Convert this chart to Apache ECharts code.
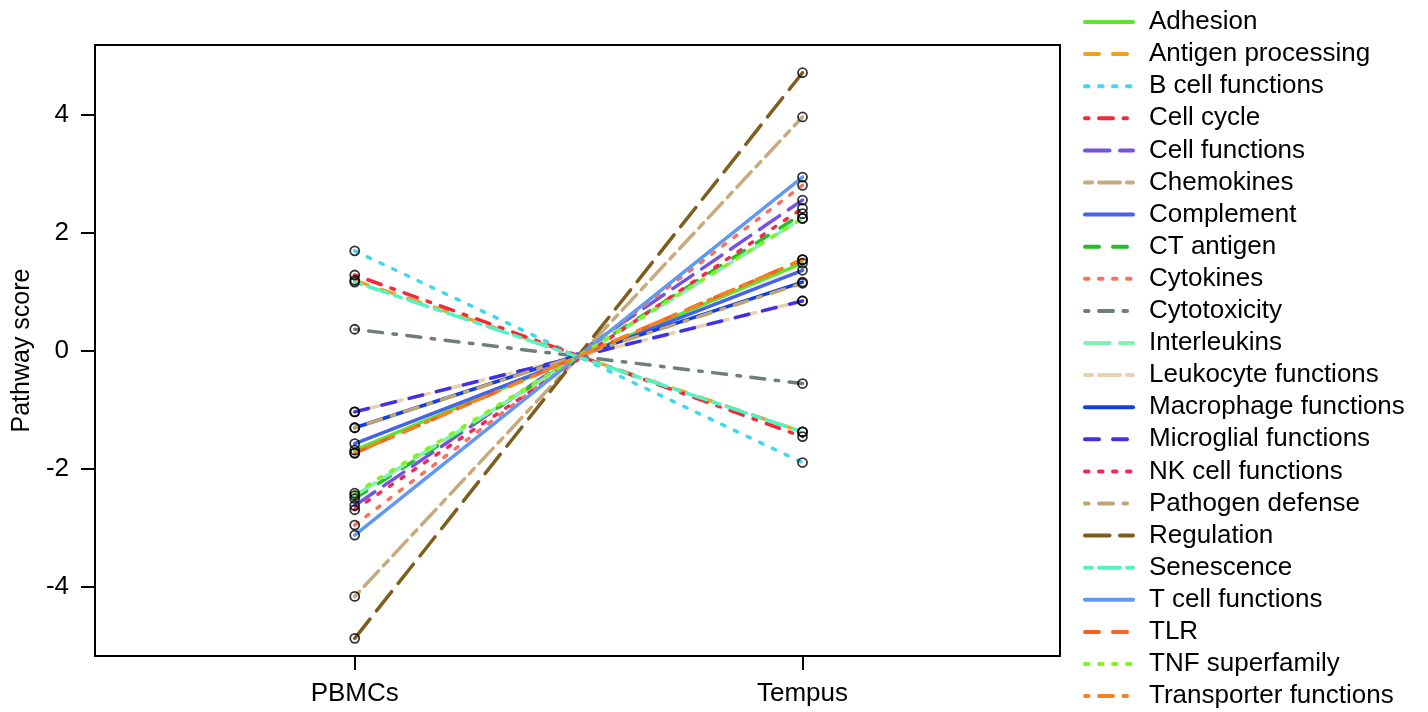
<!DOCTYPE html>
<html>
<head>
<meta charset="utf-8">
<script src="https://cdn.jsdelivr.net/npm/echarts@6/dist/echarts.min.js"></script>
<style>
html,body{margin:0;padding:0;background:#fff;}
#chart{width:1428px;height:712px;}
</style>
</head>
<body>
<div id="chart"></div>
<script>
const groups = ['PBMCs', 'Tempus'];
const pathways = ['Adhesion','Antigen processing','B cell functions','Cell cycle','Cell functions','Chemokines','Complement','CT antigen','Cytokines','Cytotoxicity','Interleukins','Leukocyte functions','Macrophage functions','Microglial functions','NK cell functions','Pathogen defense','Regulation','Senescence','T cell functions','TLR','TNF superfamily','Transporter functions'];
const pbmcScores =   [-1.68, 1.20, 1.70, 1.29, -2.62, -4.16, -1.57, -2.50, -2.95, 0.37, -2.45, -1.03, -1.30, -1.03, -2.69, -1.30, -4.87, 1.17, -3.12, -1.73, -2.41, -1.73];
const tempusScores = [ 1.49, -1.37, -1.89, -1.45, 2.56, 3.97, 1.37, 2.33, 2.81, -0.55, 2.25, 0.85, 1.17, 0.85, 2.42, 1.15, 4.72, -1.37, 2.95, 1.55, 2.25, 1.55];
const yTicks = [-4, -2, 0, 2, 4];
const colors = ['#5ee62e','#f0a21e','#3fd8f0','#f02a3a','#7452e4','#c8aa7c','#4462ea','#22c022','#f8705e','#6e7e7c','#82f2b2','#ead0ac','#1040e0','#4030e6','#f02852','#c0a474','#7e5e1c','#52f2c4','#6298f0','#f26420','#82f222','#f28222'];
// R lty cycle: solid, dashed, dotted, dotdash, longdash, twodash (units scaled by line width)
const u = 3.5;
const ltys = ['solid', [4*u,4*u], [1*u,3*u], [1*u,3*u,4*u,3*u], [7*u,3*u], [2*u,2*u,6*u,2*u]];

const series = pathways.map((name, i) => ({
  name: name,
  type: 'line',
  data: [[1, pbmcScores[i]], [2, tempusScores[i]]],
  symbol: 'none',
  silent: true,
  lineStyle: { color: colors[i], width: 3.5, type: ltys[i % 6], cap: 'round' },
  itemStyle: { color: colors[i] },
  z: 2
}));
const pts = [];
pathways.forEach((n, i) => { pts.push([1, pbmcScores[i]]); pts.push([2, tempusScores[i]]); });
series.push({
  name: 'points',
  type: 'scatter',
  data: pts,
  symbol: 'circle',
  symbolSize: 9,
  itemStyle: { color: 'rgba(0,0,0,0)', borderColor: '#000', borderWidth: 1.8 },
  z: 5
});

const chart = echarts.init(document.getElementById('chart'));
chart.setOption({
  animation: false,
  backgroundColor: '#fff',
  textStyle: { fontFamily: 'Liberation Sans, Arial, sans-serif' },
  grid: { left: 95, right: 368, top: 45, bottom: 56, show: true, borderColor: '#000', borderWidth: 2, backgroundColor: 'transparent' },
  xAxis: {
    type: 'value', min: 0.42, max: 2.575,
    axisLine: { show: false, onZero: false },
    splitLine: { show: false },
    axisTick: { show: true, inside: false, length: 14, lineStyle: { color: '#000', width: 2 }, customValues: [1, 2] },
    axisLabel: { color: '#000', fontSize: 26, margin: 25, customValues: [1, 2], formatter: v => groups[Math.round(v) - 1] }
  },
  yAxis: {
    type: 'value', min: -5.17, max: 5.19,
    name: 'Pathway score', nameLocation: 'middle', nameRotate: 90, nameGap: 59,
    nameTextStyle: { color: '#000', fontSize: 25 },
    axisLine: { show: false, onZero: false },
    splitLine: { show: false },
    axisTick: { show: true, inside: false, length: 14, lineStyle: { color: '#000', width: 2 }, customValues: yTicks },
    axisLabel: { color: '#000', fontSize: 26, margin: 26, customValues: yTicks }
  },
  legend: {
    data: pathways,
    orient: 'vertical',
    left: 1083, top: 9,
    padding: 0,
    itemWidth: 48, itemHeight: 26, itemGap: 6.1,
    itemStyle: { opacity: 0 },
    lineStyle: { width: 4 },
    selectedMode: false,
    textStyle: { color: '#000', fontSize: 26, lineHeight: 26, padding: [0, 0, 0, 11] }
  },
  series: series
});
</script>
</body>
</html>
